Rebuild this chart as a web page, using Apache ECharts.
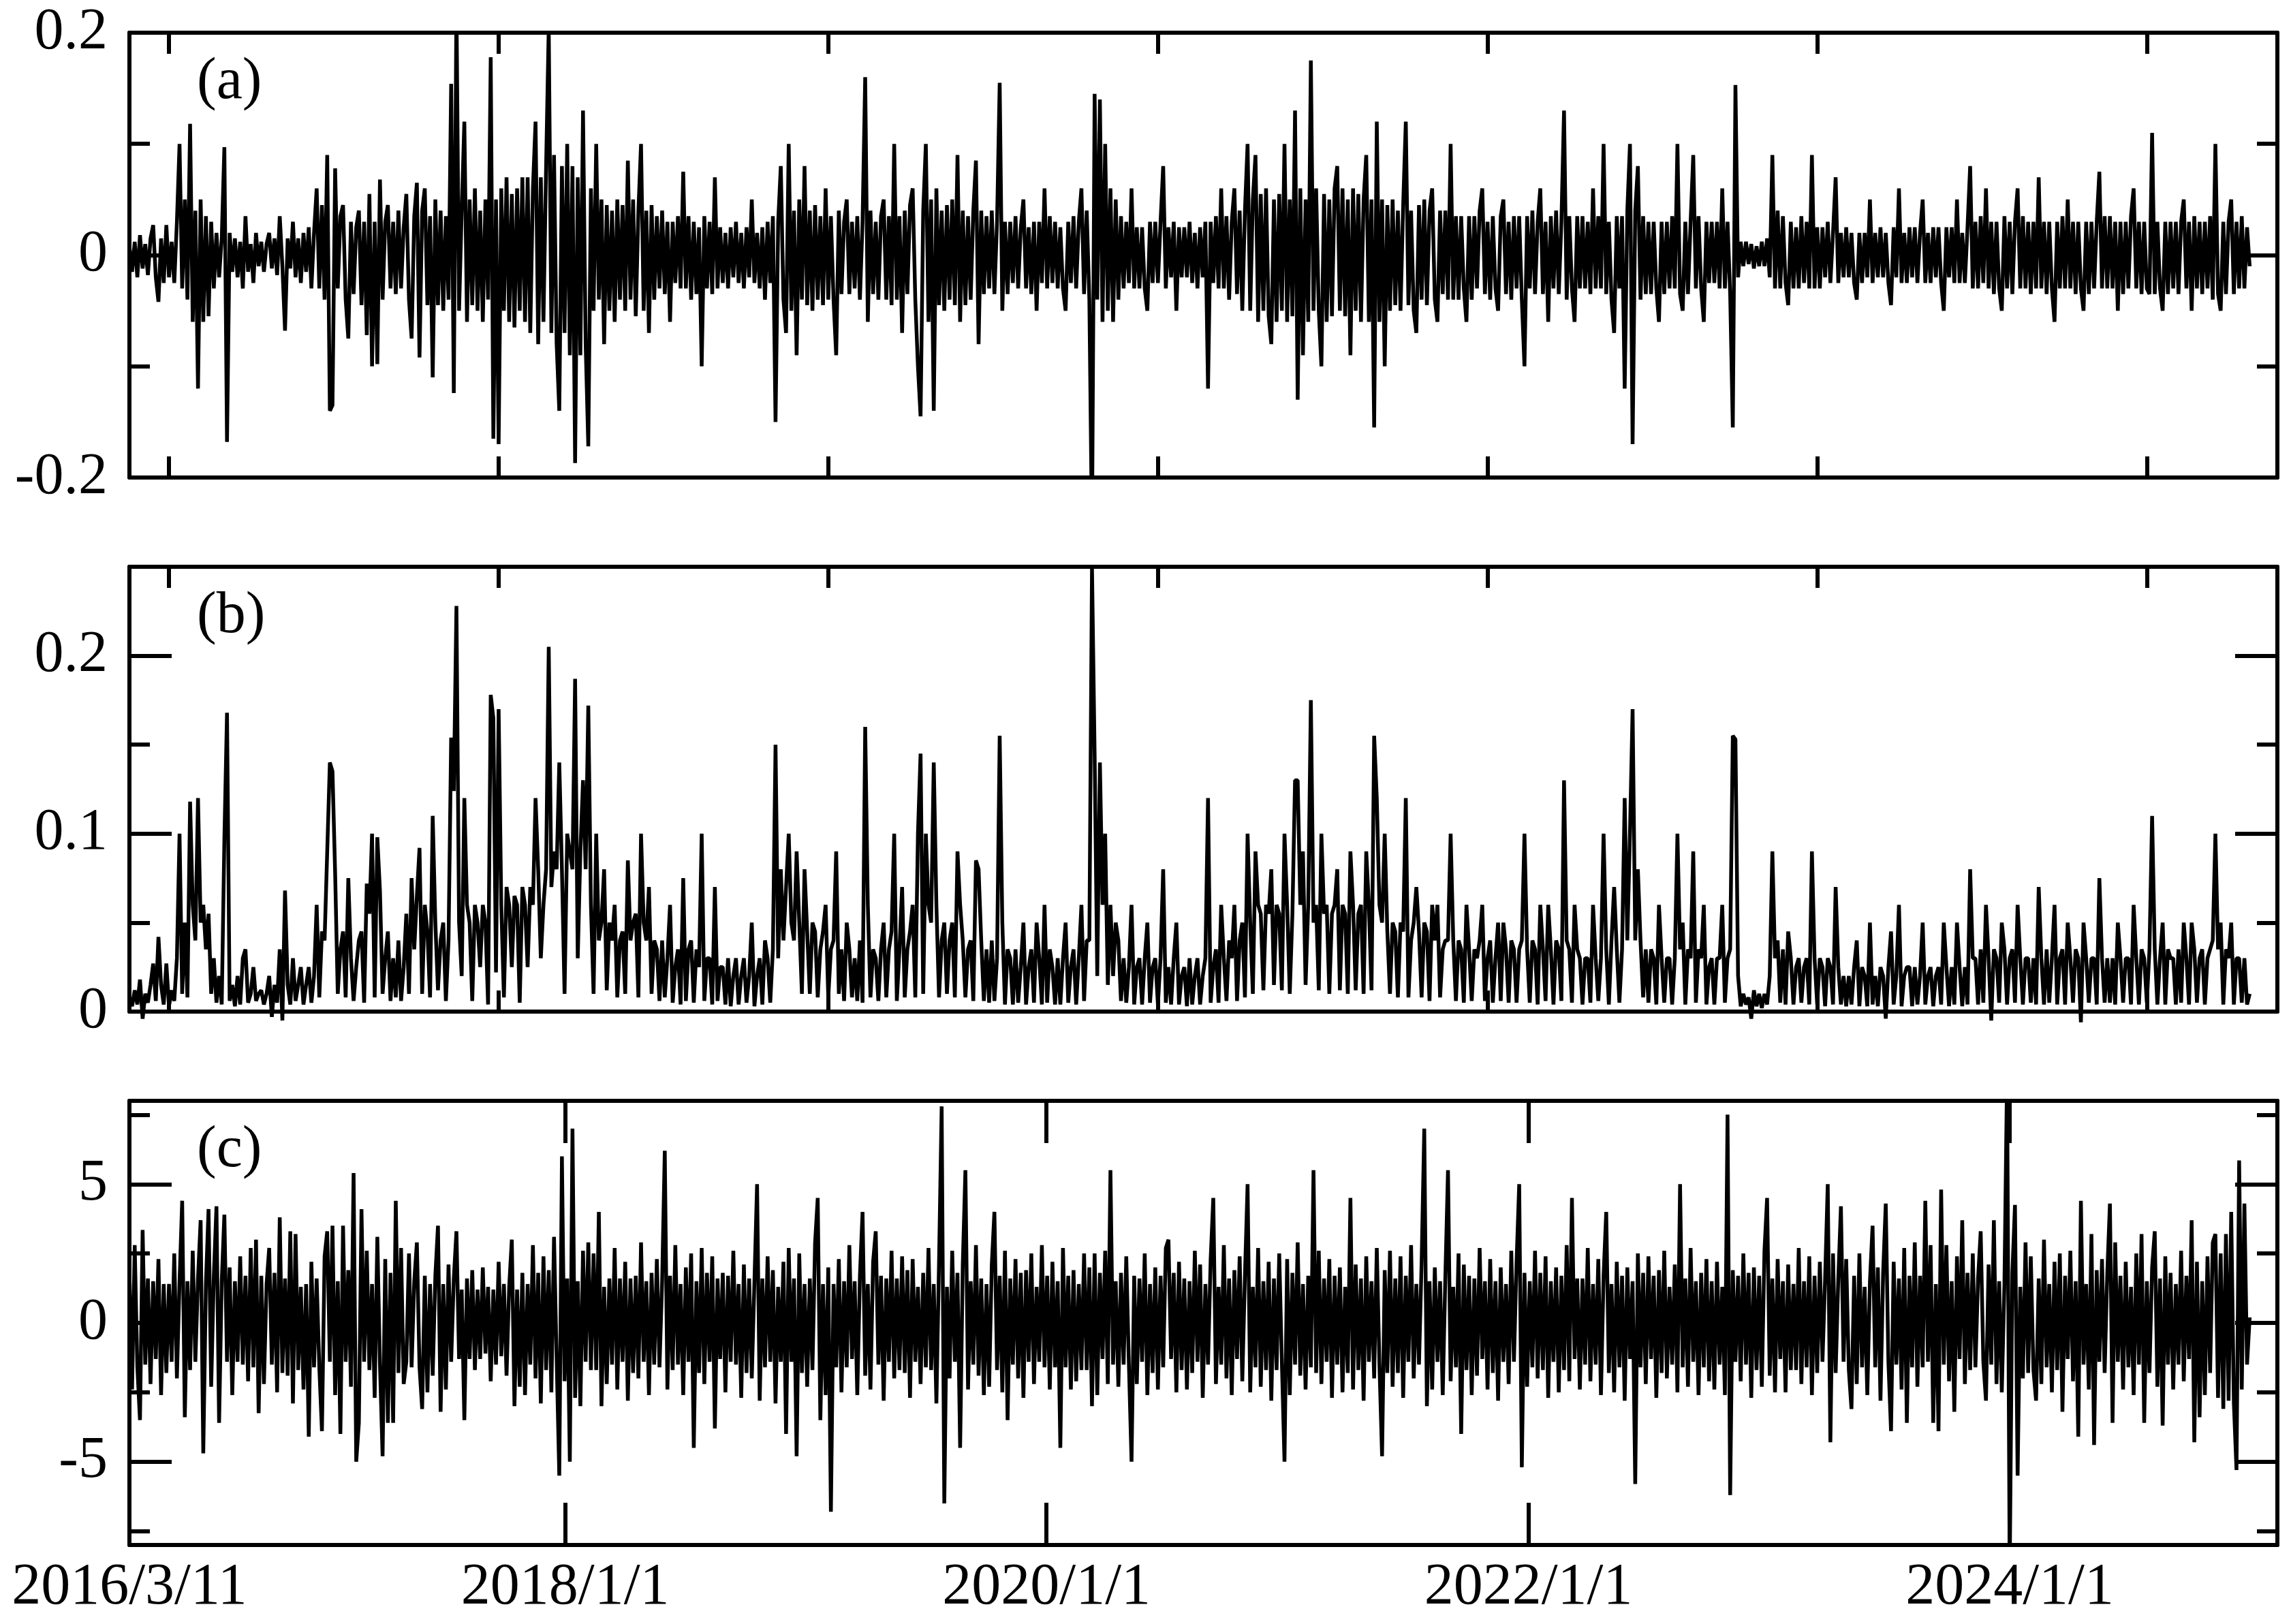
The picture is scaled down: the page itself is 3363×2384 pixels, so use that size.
<!DOCTYPE html>
<html><head><meta charset="utf-8">
<script src="https://cdn.jsdelivr.net/npm/echarts@6/dist/echarts.min.js"></script>
<style>html,body{margin:0;padding:0;background:#fff}#c{width:3363px;height:2384px}</style>
</head><body><div id="c"></div>
<script>
// sampling step of the series (days between stored values), first date 2016/3/11
const STEP_DAYS = 4;

// (a) returns
const seriesA = [
.008,-.015,.012,-.02,.018,-.012,.01,-.018,.015,.027,-.02,-.042,.015,-.025,.027,-.02,.012,-.025,.03,.1,-.03,.05,-.04,.118,-.06,
.04,-.12,.05,-.06,.035,-.055,.03,-.03,.02,-.02,.015,.097,-.168,.02,-.015,.015,-.02,.012,-.03,.035,-.015,.01,-.025,.02,-.01,
.012,-.015,.01,.02,-.012,.015,-.018,.035,-.01,-.068,.015,-.012,.03,-.02,.015,-.025,.02,-.015,.025,-.03,.02,.06,-.03,.045,-.04,
.09,-.14,-.135,.078,-.03,.035,.045,-.04,-.075,.03,-.035,.025,.04,-.045,.03,-.072,.055,-.1,.03,-.098,.068,-.04,.03,.045,-.03,
.03,-.035,.04,-.03,.025,.055,-.04,-.075,.035,.065,-.092,.04,.06,-.045,.035,-.11,.05,-.045,.04,-.05,.035,-.04,.154,-.124,.228,
-.05,.04,.12,-.06,.05,-.045,.06,-.05,.04,-.06,.05,-.04,.178,-.165,.05,-.17,.06,-.05,.07,-.06,.055,-.065,.06,-.05,.07,
-.06,.07,-.07,.06,.12,-.08,.07,-.06,.08,.205,-.07,.09,-.08,-.14,.08,-.07,.1,-.09,.08,-.187,.07,-.09,.13,-.08,-.172,
.06,-.05,.1,-.04,.05,-.08,.045,-.05,.04,-.06,.05,-.04,.045,-.05,.085,-.04,.05,-.055,.04,.1,-.05,.04,-.07,.045,-.04,
.035,-.03,.04,-.035,.03,-.06,.03,-.025,.035,-.03,.075,-.03,.035,-.04,.03,-.035,.025,-.1,.035,-.03,.03,-.035,.07,-.03,.025,
-.025,.02,-.03,.025,-.02,.03,-.025,.02,-.03,.025,-.02,.05,-.025,.02,-.03,.025,-.04,.03,-.025,.035,-.15,.03,.08,-.04,-.07,
.1,-.05,.04,-.09,.05,-.04,.08,-.045,.04,-.05,.045,-.04,.035,-.045,.06,-.04,.035,-.04,-.09,.04,-.035,.03,.05,-.035,.03,
-.03,.035,-.04,.03,.16,-.06,.04,-.035,.03,-.04,.035,.05,-.04,.035,-.045,.1,-.04,.035,-.07,.04,-.035,.045,.06,-.04,-.1,
-.145,.04,.1,-.06,.05,-.14,.06,-.045,.04,-.05,.045,-.04,.05,-.045,.09,-.06,.04,-.045,.035,-.04,.04,.085,-.08,.04,-.035,
.035,-.03,.04,-.035,.03,.155,-.05,.03,-.035,.03,-.025,.035,-.03,.025,.05,-.03,.025,-.035,.03,-.05,.03,-.025,.06,-.03,.035,
-.025,.03,-.03,.025,-.03,-.05,.03,-.025,.035,-.03,.03,.06,-.035,.04,-.04,-.25,.145,-.04,.14,-.06,.1,-.05,.06,-.06,.05,
-.04,.035,-.03,.03,-.025,.06,-.03,.025,-.03,.025,-.03,-.05,.03,-.025,.03,-.025,.03,.08,-.03,.025,-.02,.03,-.05,.025,-.02,
.025,-.02,.03,-.025,.02,-.03,.025,-.02,.03,-.12,.03,-.025,.035,-.03,.06,-.03,.035,-.04,.03,.06,-.035,.04,-.05,.04,.1,
-.05,.05,.09,-.06,.055,-.05,.06,-.055,-.08,.05,-.06,.055,-.05,.1,-.06,.05,-.055,.13,-.13,.06,-.09,.05,-.06,.175,-.05,
.06,-.05,-.1,.055,-.06,.05,-.055,.06,.08,-.05,.06,-.055,.05,-.09,.06,-.05,.055,-.06,.05,.09,-.06,.05,-.155,.12,-.06,
.05,-.1,.045,-.05,.05,-.045,.04,-.05,.045,.12,-.045,.04,-.05,-.07,.045,-.04,.05,-.045,.04,.06,-.04,-.06,.04,-.035,.04,
-.04,.1,-.04,.035,-.04,.035,-.03,-.06,.035,-.04,.035,-.03,.04,.06,-.035,.03,-.04,.035,-.03,-.05,.035,.05,-.035,.03,-.04,
.035,-.03,.035,-.04,-.1,.035,-.03,.04,-.035,.03,.06,-.035,.03,-.06,.035,-.03,.04,-.035,.03,.13,-.04,.035,-.03,-.06,.035,
-.03,.035,-.03,.03,-.035,.06,-.03,.035,-.03,.1,-.035,.03,-.04,-.07,.035,-.03,.035,-.12,.04,.1,-.17,.04,.08,-.04,.035,
-.035,.03,-.035,.03,-.03,-.06,.03,-.035,.03,-.03,.035,-.03,.1,-.035,-.05,.03,-.035,.03,.09,-.03,.035,-.03,-.06,.03,-.025,
.03,-.025,.03,-.03,.06,-.03,.03,-.035,-.155,.153,-.02,.012,-.01,.012,-.008,.01,-.012,.008,-.01,.012,-.01,.015,-.02,.09,-.03,
.04,-.03,.035,-.025,-.045,.03,-.03,.025,-.03,.035,-.025,.03,-.03,.09,-.03,.025,-.03,.025,-.02,.03,-.025,.02,.07,-.025,.02,
-.02,.025,-.02,.02,-.025,-.04,.02,-.025,.02,-.02,.05,-.025,.02,-.02,.025,-.02,.02,-.025,-.045,.025,-.02,.06,-.025,.02,-.025,
.025,-.02,.025,-.025,.02,.05,-.025,.02,-.025,.025,-.02,.025,-.025,-.05,.025,-.02,.025,-.025,.05,-.025,.02,-.025,.025,.08,-.03,
.03,-.03,.035,-.025,.06,-.03,.03,-.035,.03,-.03,-.05,.035,-.03,.03,-.035,.03,.06,-.03,.035,-.03,.03,-.035,.03,-.03,.07,
-.03,.03,-.035,.03,-.03,-.06,.03,-.03,.035,-.03,.05,-.03,.03,-.035,.03,-.03,-.05,.03,-.035,.03,-.03,.03,.075,-.03,.035,
-.03,.035,-.03,.03,-.05,.03,-.035,.03,-.03,.035,.06,-.03,.03,-.035,.03,-.03,-.035,.11,-.035,.03,-.03,-.05,.03,-.035,.03,
-.03,.03,-.035,.03,.05,-.03,.03,-.05,.035,-.03,.03,-.035,.03,-.03,.035,-.04,.1,-.035,-.05,.03,-.035,.03,.05,-.035,.03,
-.03,.035,-.03,.025,-.01
];

// (b) volatility
const seriesB = [
.008,.003,.012,.004,.018,-.004,.01,.005,.015,.027,.006,.042,.015,.004,.027,.003,.012,.006,.03,.1,.01,.05,.008,.118,.06,
.04,.12,.05,.06,.035,.055,.01,.03,.005,.02,.004,.097,.168,.006,.015,.003,.02,.004,.03,.035,.005,.01,.025,.006,.01,
.012,.004,.01,.02,-.003,.015,.005,.035,-.005,.068,.015,.004,.03,.006,.015,.025,.004,.015,.025,.005,.02,.06,.008,.045,.04,
.09,.14,.135,.078,.01,.035,.045,.008,.075,.03,.006,.025,.04,.045,.005,.072,.055,.1,.008,.098,.068,.01,.03,.045,.006,
.03,.008,.04,.006,.025,.055,.01,.075,.035,.065,.092,.01,.06,.045,.008,.11,.05,.012,.04,.05,.006,.04,.154,.124,.228,
.05,.02,.12,.06,.05,.006,.06,.05,.025,.06,.05,.004,.178,.165,.022,.17,.06,.008,.07,.06,.025,.065,.06,.005,.07,
.06,.025,.07,.06,.12,.08,.03,.06,.08,.205,.07,.09,.08,.14,.08,.01,.1,.09,.08,.187,.03,.09,.13,.08,.172,
.06,.01,.1,.04,.05,.08,.012,.05,.04,.06,.008,.04,.045,.01,.085,.04,.05,.055,.008,.1,.05,.04,.07,.01,.04,
.035,.006,.04,.008,.03,.06,.005,.025,.035,.004,.075,.006,.035,.04,.005,.035,.025,.1,.006,.03,.03,.004,.07,.006,.025,
.025,.004,.03,.003,.02,.03,.004,.02,.03,.005,.02,.05,.003,.02,.03,.004,.04,.03,.005,.035,.15,.03,.08,.04,.07,
.1,.05,.04,.09,.05,.01,.08,.045,.01,.05,.045,.008,.035,.045,.06,.008,.035,.04,.09,.01,.035,.006,.05,.035,.008,
.03,.006,.04,.005,.16,.06,.008,.035,.03,.006,.035,.05,.008,.035,.045,.1,.006,.035,.07,.008,.035,.045,.06,.008,.1,
.145,.01,.1,.06,.05,.14,.06,.008,.04,.05,.01,.04,.05,.008,.09,.06,.04,.008,.035,.04,.006,.085,.08,.04,.006,
.035,.005,.04,.006,.03,.155,.05,.004,.035,.03,.004,.035,.005,.025,.05,.004,.025,.035,.005,.05,.03,.004,.06,.005,.035,
.025,.004,.03,.004,.03,.05,.005,.025,.035,.004,.03,.06,.006,.04,.04,.25,.145,.02,.14,.06,.1,.015,.06,.02,.05,
.04,.006,.03,.005,.025,.06,.004,.025,.03,.004,.03,.05,.005,.025,.03,.004,.03,.08,.005,.025,.004,.03,.05,.004,.02,
.025,.003,.03,.004,.02,.03,.004,.02,.03,.12,.005,.025,.035,.005,.06,.03,.006,.04,.03,.06,.006,.04,.05,.008,.1,
.05,.01,.09,.06,.055,.012,.06,.055,.08,.015,.06,.055,.012,.1,.06,.01,.055,.13,.13,.06,.09,.015,.06,.175,.05,
.06,.012,.1,.055,.06,.01,.055,.06,.08,.012,.06,.055,.01,.09,.06,.012,.055,.06,.01,.09,.06,.012,.155,.12,.06,
.05,.1,.045,.01,.05,.045,.008,.05,.045,.12,.008,.04,.05,.07,.045,.008,.05,.045,.006,.06,.04,.06,.008,.035,.04,
.04,.1,.04,.006,.04,.035,.005,.06,.035,.006,.035,.03,.04,.06,.006,.03,.04,.005,.03,.05,.006,.05,.035,.005,.04,
.035,.005,.035,.04,.1,.035,.005,.04,.035,.004,.06,.035,.006,.06,.035,.004,.04,.035,.006,.13,.04,.035,.005,.06,.035,
.03,.004,.03,.03,.005,.06,.03,.006,.03,.1,.035,.004,.04,.07,.035,.005,.035,.12,.04,.1,.17,.04,.08,.04,.008,
.035,.005,.035,.03,.004,.06,.03,.005,.03,.03,.004,.03,.1,.035,.05,.004,.035,.03,.09,.005,.035,.03,.06,.004,.025,
.03,.004,.03,.03,.06,.005,.03,.035,.155,.153,.02,.003,.01,.004,.008,-.004,.012,.003,.01,.002,.01,.004,.02,.09,.03,
.04,.005,.035,.004,.045,.03,.004,.025,.03,.005,.025,.03,.004,.09,.03,.004,.03,.025,.003,.03,.025,.004,.07,.025,.004,
.02,.003,.02,.004,.025,.04,.003,.025,.02,.003,.05,.004,.02,.003,.025,.02,-.004,.025,.045,.004,.02,.06,.003,.02,.025,
.025,.003,.025,.004,.02,.05,.004,.02,.025,.003,.02,.025,.004,.05,.025,.003,.025,.004,.05,.025,.003,.025,.004,.08,.03,
.03,.004,.035,.005,.06,.03,-.005,.035,.03,.005,.05,.035,.004,.03,.035,.005,.06,.03,.004,.03,.03,.005,.03,.004,.07,
.03,.004,.035,.005,.03,.06,.004,.03,.035,.004,.05,.03,.005,.035,.03,-.006,.05,.03,.005,.03,.03,.004,.075,.03,.005,
.03,.005,.03,.004,.05,.03,.005,.03,.03,.004,.06,.03,.004,.035,.03,.005,.035,.11,.035,.004,.03,.05,.004,.035,.03,
.03,.004,.035,.005,.05,.03,.004,.05,.035,.005,.03,.035,.004,.03,.035,.04,.1,.035,.05,.004,.035,.03,.05,.004,.03,
.03,.005,.03,.004,.01
];

// (c) standardized residuals
const seriesC = [
1.8,-2.4,2.8,-1.6,-3.5,3.35,-1.5,1.6,-2.2,1.5,-1.3,2.3,-2.6,1.4,-1.8,1.4,-1.4,2.5,-2.0,1.5,4.4,-3.4,1.5,-1.7,2.6,
-1.4,1.6,3.7,-4.7,1.4,4.1,-2.3,1.7,4.2,-3.6,1.5,3.9,-1.4,2.0,-2.6,1.5,-1.4,2.4,-1.5,1.7,-2.1,2.7,-1.6,3.0,-3.25,
1.7,-2.2,1.4,2.7,-1.5,1.8,-2.5,3.8,-1.8,1.6,-1.9,3.3,-2.9,3.2,-1.7,1.3,-2.4,1.4,-4.1,2.2,-1.6,1.6,-1.6,-3.9,2.4,
3.3,-1.4,3.5,-2.6,1.5,-4.0,3.5,-1.4,1.9,-2.3,5.4,-5.0,-3.6,4.1,-1.4,2.6,-1.7,1.4,-2.7,3.1,-1.5,-4.8,2.3,-3.6,1.8,
-3.6,4.4,-1.8,2.7,-2.2,-1.4,2.5,-1.6,1.5,2.9,-1.6,-3.1,1.7,-2.5,1.4,-1.9,1.7,3.5,-3.2,1.4,-2.4,2.1,-1.4,1.6,3.3,
-1.3,1.2,-3.5,1.6,-1.3,1.9,-1.7,1.2,-1.3,2.0,-1.1,1.3,-2.1,1.2,-1.5,2.2,-1.2,1.4,-1.9,1.3,3.0,-3.0,1.2,-2.3,1.8,
-2.6,1.4,-1.5,2.8,-2.0,1.8,-2.9,2.4,-1.7,1.9,-2.5,3.1,-1.3,-5.5,6.0,-2.1,1.6,-5.0,7.0,-2.7,1.5,-3.0,2.6,-1.4,2.9,
-1.7,2.5,-1.7,4.0,-3.0,1.3,-2.2,1.6,-1.5,2.7,-2.4,1.6,-1.4,2.2,-2.8,1.6,-1.8,1.7,-2.0,2.9,-1.4,1.5,-2.6,1.8,-1.5,
2.3,-1.6,1.5,6.2,-2.4,1.7,-1.7,2.8,-1.5,1.4,-2.6,2.0,-1.4,2.5,-4.5,1.5,-1.8,2.7,-2.2,1.8,-1.4,2.4,-3.8,1.6,-1.3,
1.8,-2.5,1.7,-1.4,2.6,-1.5,1.4,-2.7,2.1,-1.8,1.6,-2.0,1.5,5.0,-2.8,1.6,-1.6,2.4,-1.4,1.9,-2.9,1.3,-1.4,2.2,-4.0,
2.7,-1.4,1.6,-4.8,2.5,-1.8,1.4,-2.3,1.6,-1.7,2.9,4.5,-3.5,1.4,-2.6,2.0,-6.8,1.4,-1.6,2.3,-2.5,1.5,-1.6,2.8,-1.3,
1.5,-2.6,1.7,4.0,-1.9,1.4,-2.4,2.2,3.3,-1.5,1.7,-2.8,1.6,-1.4,2.6,-2.0,1.6,-1.7,2.4,-1.8,1.9,-2.7,2.3,-1.4,1.3,
-2.2,1.8,-1.6,2.7,-1.7,1.4,-2.9,2.2,7.8,-6.5,1.3,-2.0,2.6,-1.4,1.8,-4.5,2.1,5.5,-2.4,1.5,-1.5,2.8,-1.9,1.6,-2.6,
1.4,-2.3,2.1,4.0,-1.7,1.7,-2.5,2.6,-3.5,1.6,-1.5,2.3,-2.0,1.8,-2.7,1.9,-1.4,2.5,-2.2,1.3,-1.4,2.8,-1.6,1.7,-2.4,
2.2,-1.6,1.5,-4.5,2.7,-1.6,1.7,-2.4,1.9,-2.1,1.4,-1.7,2.5,-1.7,2.0,-3.0,2.5,-2.6,1.8,-1.3,2.6,-2.2,5.5,-1.5,1.5,
-2.3,1.8,-1.5,2.4,-1.5,-5.0,1.7,-2.2,1.6,-1.4,2.5,-2.6,1.4,-1.8,2.0,-2.4,1.7,-1.6,2.7,3.0,-1.3,1.8,-2.5,2.2,-1.7,
1.6,-2.4,1.5,-1.8,2.6,-1.4,2.1,-2.7,1.4,-1.5,2.3,4.5,-2.2,1.3,-1.5,2.8,-2.0,1.6,-2.6,1.9,-1.3,2.4,-2.1,1.7,5.0,
-2.5,1.3,-1.6,2.7,-2.3,1.5,-1.7,2.2,-2.8,1.6,-1.7,2.5,-1.4,-5.0,2.3,-2.6,1.8,-1.5,2.9,-1.9,1.4,-2.4,1.7,-1.6,5.5,
-1.8,2.6,-2.2,1.6,-1.4,2.3,-2.7,1.7,-1.5,2.0,-2.5,1.3,-1.8,4.5,-2.4,2.1,-1.7,1.6,-2.8,2.4,-1.4,1.5,-2.0,2.7,-1.5,
-4.8,1.9,-1.8,2.6,-2.3,1.6,-1.8,2.4,-2.7,1.7,-1.4,2.8,-2.0,1.4,-1.5,2.2,7.0,-3.0,1.5,-2.4,2.0,-1.4,1.5,-2.6,1.7,
5.5,-2.1,1.3,-1.6,2.5,-4.0,2.1,-1.7,1.7,-2.6,1.6,-1.9,2.7,-1.3,1.5,-2.4,2.3,-1.8,1.5,-2.8,2.0,-1.4,1.4,-2.2,2.6,
-1.4,2.2,5.0,-5.2,1.8,-2.3,1.5,-1.6,2.6,-2.0,1.8,-1.7,2.4,-2.7,1.5,-1.4,2.0,-2.5,1.7,-1.7,2.8,-2.1,4.5,-1.3,1.6,
-2.4,1.6,-1.5,2.7,-2.1,1.4,-1.5,2.3,-2.6,1.7,4.0,-1.8,1.4,-2.5,2.2,-1.6,1.7,-2.8,2.0,-1.3,1.5,-5.8,2.5,-1.6,1.8,
-2.2,2.4,-1.3,1.7,-2.7,1.9,-1.8,2.6,-2.0,1.3,-1.5,2.1,-2.5,5.0,-1.6,1.6,-2.3,2.7,-1.4,1.5,-2.6,1.8,-1.6,2.3,-2.1,
1.5,-2.4,2.2,-1.5,1.3,-2.6,7.5,-6.2,1.9,-1.4,1.7,-2.1,2.5,-1.5,1.8,-2.7,2.0,-1.7,1.7,-2.3,2.6,4.5,-1.9,1.6,-2.5,
2.3,-1.3,1.5,-2.5,2.1,-1.7,1.4,-1.7,2.7,-2.2,1.5,-1.6,2.4,-2.6,1.7,-1.8,2.2,-1.4,1.6,5.0,-4.3,2.5,-1.8,1.6,4.2,
-1.4,2.3,-1.7,-3.1,1.7,-2.2,2.5,-1.6,1.3,-2.6,1.5,3.5,-1.6,2.0,-2.8,1.8,4.3,-1.4,-3.9,2.2,-1.5,1.6,-2.4,2.7,-3.6,
1.7,-1.6,2.9,-2.3,1.7,-1.6,4.4,-1.4,2.8,-3.6,1.4,-3.9,4.8,-1.5,2.8,-2.1,1.5,-3.2,2.4,-1.3,3.7,-2.2,1.8,-1.7,2.5,
-1.6,1.6,3.3,-1.4,-2.8,2.1,-1.5,3.7,-2.2,1.5,-2.5,1.4,9.0,-9.0,1.8,4.25,-5.5,1.3,-2.0,2.9,-1.8,2.4,-1.7,-2.8,1.6,
-2.2,3.0,-1.6,1.4,-2.5,2.2,-1.7,2.5,-3.2,1.7,-1.3,2.6,-2.1,1.5,-4.1,4.4,-1.5,1.4,-2.4,3.2,-4.4,1.9,-1.4,2.3,-1.8,
1.8,4.3,-3.6,2.9,-1.4,1.7,-2.4,2.2,-1.6,1.3,-2.6,2.5,-1.5,3.2,-3.6,1.5,-1.8,2.0,3.3,-2.3,1.6,-3.7,2.4,-1.5,1.8,
-2.4,1.4,-1.5,2.6,-2.1,1.7,-1.3,3.7,-4.3,2.2,-3.4,1.5,-2.6,2.4,-1.8,2.9,3.2,-2.7,2.5,-3.1,3.2,-2.8,4.0,-2.9,-5.3,
5.85,-2.4,4.3,-1.5,0.2
];

const panelLabels = ['(a)', '(b)', '(c)'];
const yRanges = [[-0.2, 0.2], [0, 0.25], [-8, 8]];
const yMajor = [[-0.2, 0, 0.2], [0, 0.1, 0.2], [-5, 0, 5]];
const yMinor = [[-0.1, 0.1], [0.05, 0.15], [-7.5, -2.5, 2.5, 7.5]];
const xTicksAB = [60, 560, 1060, 1560, 2060, 2560, 3060];
const xLabelDays = [0, 661, 1391, 2122, 2852];
const xLabelTexts = ['2016/3/11', '2018/1/1', '2020/1/1', '2022/1/1', '2024/1/1'];
const X_MAX_DAY = 3258;

const FONT = 'Liberation Serif';
const FS = 86;
const LW = 6;
const grids = [
  {left: 190, top: 48, width: 3153, height: 653},
  {left: 190, top: 832, width: 3153, height: 653},
  {left: 190, top: 1616, width: 3153, height: 652}
];
const allSeries = [seriesA, seriesB, seriesC];

const xAxes = [], yAxes = [], series = [], graphics = [];
grids.forEach((g, k) => {
  const isC = k === 2;
  const xTicks = isC ? xLabelDays.slice(1) : xTicksAB;
  const xTickLen = isC ? 62 : 31;
  ['bottom', 'top'].forEach(pos => {
    xAxes.push({
      type: 'value', gridIndex: k, position: pos, min: 0, max: X_MAX_DAY,
      axisLine: {show: true, onZero: false, lineStyle: {color: '#000', width: LW}},
      axisTick: {show: true, inside: true, length: xTickLen, customValues: xTicks, lineStyle: {color: '#000', width: LW}},
      axisLabel: (isC && pos === 'bottom') ? {
        show: true, customValues: xLabelDays, margin: 20, color: '#000',
        fontFamily: FONT, fontSize: FS,
        formatter: v => xLabelTexts[xLabelDays.indexOf(v)]
      } : {show: false},
      splitLine: {show: false}
    });
  });
  ['left', 'right'].forEach(pos => {
    yAxes.push({
      type: 'value', gridIndex: k, position: pos, min: yRanges[k][0], max: yRanges[k][1],
      axisLine: {show: true, onZero: false, lineStyle: {color: '#000', width: LW}},
      axisTick: {show: true, inside: true, length: 62, customValues: yMajor[k], lineStyle: {color: '#000', width: LW}},
      axisLabel: pos === 'left' ? {
        show: true, customValues: yMajor[k], margin: 32, color: '#000', fontFamily: FONT, fontSize: FS
      } : {show: false},
      splitLine: {show: false}
    });
    yAxes.push({
      type: 'value', gridIndex: k, position: pos, min: yRanges[k][0], max: yRanges[k][1],
      axisLine: {show: false, onZero: false},
      axisTick: {show: true, inside: true, length: 30, customValues: yMinor[k], lineStyle: {color: '#000', width: LW}},
      axisLabel: {show: false},
      splitLine: {show: false}
    });
  });
  const vals = allSeries[k];
  series.push({
    type: 'line', xAxisIndex: k * 2, yAxisIndex: k * 4,
    data: vals.map((v, i) => [i * STEP_DAYS, v]),
    symbol: 'none', showSymbol: false, clip: k !== 1, silent: true,
    lineStyle: {color: '#000', width: 5.5, join: 'bevel'},
    z: 1
  });
  graphics.push({
    type: 'text', left: 289, top: g.top + 30,
    style: {text: panelLabels[k], font: FS + 'px "' + FONT + '"', fill: '#000'}
  });
});

const chart = echarts.init(document.getElementById('c'), null, {width: 3363, height: 2384, renderer: 'canvas'});
chart.setOption({
  animation: false,
  backgroundColor: '#fff',
  grid: grids,
  xAxis: xAxes,
  yAxis: yAxes,
  series: series,
  graphic: graphics
});
</script></body></html>
